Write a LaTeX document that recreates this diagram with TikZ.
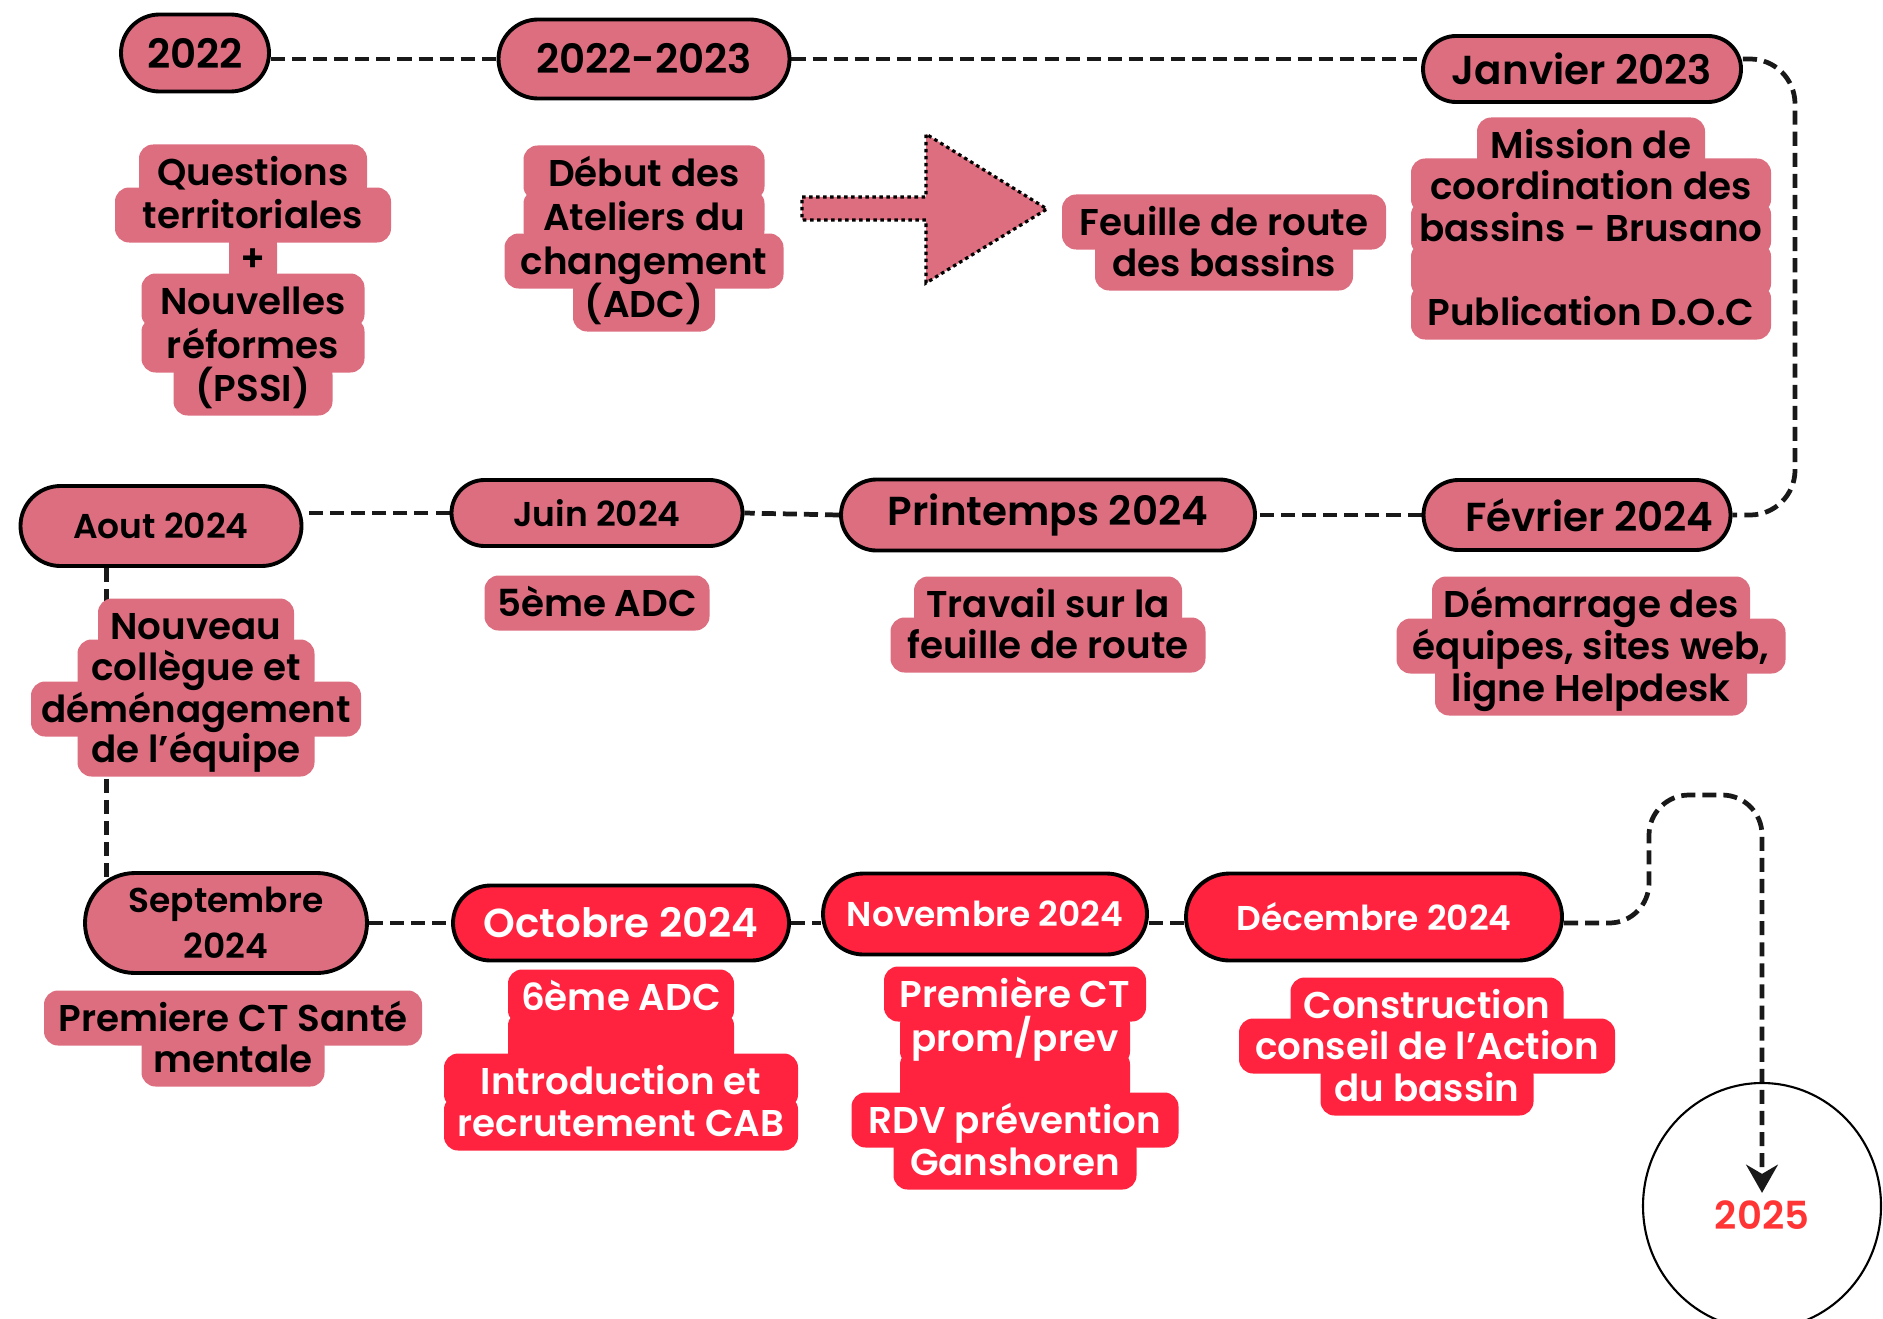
\documentclass[tikz,border=0pt]{standalone}
\usepackage{fontspec}
\setmainfont{Poppins}[BoldFont={Poppins SemiBold}]
\usetikzlibrary{shapes.misc, arrows.meta}

\definecolor{rosebox}{HTML}{DC6E7F}
\definecolor{redbox}{HTML}{FF2340}
\definecolor{redtext}{HTML}{FF3535}

\pgfdeclarelayer{lines}
\pgfdeclarelayer{boxes}
\pgfsetlayers{lines,boxes,main}

\begin{document}
\begin{tikzpicture}[
				pill/.style={rounded rectangle, draw=black, line width=1.1pt, fill=rosebox, text=black, inner sep=0pt, font=\bfseries\fontsize{11.5}{14}\selectfont},
				smallpill/.style={pill, font=\bfseries\fontsize{9.8}{13}\selectfont},
				redpill/.style={pill, fill=redbox, text=white},
				tag/.style={rounded corners=4pt, inner sep=0pt, minimum height=0.55cm},
				pinktag/.style={tag, fill=rosebox},
				redtag/.style={tag, fill=redbox},
				tagtext/.style={inner sep=0pt, text height=9.4pt, text depth=1.6pt, font=\bfseries\fontsize{10.6}{13}\selectfont},
				timeline/.style={draw=black!90, line width=1.35pt, dash pattern=on 4pt off 2pt}
			]

			\useasboundingbox (0,0) rectangle (18.83,13.18);

			% first row
			\node[pill, minimum width=1.48cm, minimum height=0.77cm] (p2022) at (1.95,12.65) {2022};
			\node[pill, minimum width=2.91cm, minimum height=0.79cm] (p2223) at (6.44,12.59) {2022-2023};
			\node[pill, minimum width=3.18cm, minimum height=0.66cm] (pjan23) at (15.82,12.49) {Janvier 2023};

			% second row
			\node[smallpill, minimum width=2.81cm, minimum height=0.80cm] (paout) at (1.61,7.92) {Aout 2024};
			\node[smallpill, minimum width=2.91cm, minimum height=0.66cm] (pjuin) at (5.97,8.05) {Juin 2024};
			\node[pill, minimum width=4.14cm, minimum height=0.71cm] (pprint) at (10.48,8.03) {Printemps 2024};
			\node[pill, minimum width=3.07cm, minimum height=0.70cm] (pfev) at (15.77,8.03) {\hspace{0.25cm}Février 2024};

			% third row
			\node[smallpill, align=center, minimum width=2.82cm, minimum height=1.00cm] (psept) at (2.26,3.95) {Septembre\\2024};
			\node[redpill, minimum width=3.36cm, minimum height=0.75cm] (poct) at (6.21,3.95) {Octobre 2024};
			\node[redpill, smallpill, fill=redbox, text=white, minimum width=3.24cm, minimum height=0.81cm] (pnov) at (9.85,4.04) {Novembre 2024};
			\node[redpill, smallpill, fill=redbox, text=white, minimum width=3.76cm, minimum height=0.87cm] (pdec) at (13.74,4.01) {Décembre 2024};

			\node[text=redtext, inner sep=2pt, font=\bfseries\fontsize{11}{13}\selectfont] (t2025) at (17.62,1.03) {2025};
			\draw[line width=0.6pt] (17.62,1.12) ellipse [x radius=1.19cm, y radius=1.23cm];

			\begin{pgfonlayer}{lines}
				\draw[timeline] (p2223.west -| p2022.east) -- (p2223.west);
				\draw[timeline] (p2223.east) -- (p2223.east -| pjan23.west);
				\draw[timeline, rounded corners=0.45cm] (pjan23.east |- p2223.east) -| (17.95,10) |- (pfev.east);
				\draw[timeline] (pfev.west) -- (pprint.east);
				\draw[timeline] (pprint.west) -- (pjuin.east);
				\draw[timeline] (pjuin.west) -- (pjuin.west -| paout.east);
				\draw[timeline] (paout.south -| psept.160) -- (psept.160);
				\draw[timeline] (psept.east) -- (poct.west);
				\draw[timeline] (poct.east) -- (poct.east -| pnov.west);
				\draw[timeline] (pnov.east |- poct.east) -- (poct.east -| pdec.west);
				\draw[timeline, rounded corners=0.4cm, -{Stealth[length=8pt, width=9pt]}] (pdec.east |- poct.east) -| (16.49,5.23) -| (t2025.north);
			\end{pgfonlayer}

			\filldraw[fill=rosebox, draw=black, line width=0.9pt, dash pattern=on 1pt off 1pt] (8.02,11.21) -- (9.26,11.21) -- (9.26,11.84) -- (10.47,11.09) -- (9.26,10.35) -- (9.26,10.98) -- (8.02,10.98) -- cycle;

			\foreach \txt/\ty/\tw [count=\i] in {Questions/11.46/2.28, territoriales/11.03/2.76, +/10.60/0.48, Nouvelles/10.17/2.23, réformes/9.73/2.23, (PSSI)/9.30/1.59} {
					\begin{pgfonlayer}{boxes}
						\node[pinktag, minimum width=\tw cm] (quest-\i) at (2.53,\ty) {};
					\end{pgfonlayer}
					\node[tagtext] at (quest-\i) {\txt};
				}

			\foreach \txt/\ty/\tw [count=\i] in {Début des/11.45/2.41, Ateliers du/11.01/2.41, changement/10.57/2.79, (ADC)/10.14/1.42} {
					\begin{pgfonlayer}{boxes}
						\node[pinktag, minimum width=\tw cm] (debut-\i) at (6.44,\ty) {};
					\end{pgfonlayer}
					\node[tagtext] at (debut-\i) {\txt};
				}

			\foreach \txt/\ty/\tw [count=\i] in {Feuille de route/10.96/3.24, des bassins/10.55/2.58} {
					\begin{pgfonlayer}{boxes}
						\node[pinktag, minimum width=\tw cm] (feuille-\i) at (12.24,\ty) {};
					\end{pgfonlayer}
					\node[tagtext] at (feuille-\i) {\txt};
				}

			\foreach \txt/\ty/\tw [count=\i] in {Mission de/11.73/2.28, coordination des/11.32/3.60, bassins - Brusano/10.90/3.60, /10.48/3.60, Publication D.O.C/10.06/3.60} {
					\begin{pgfonlayer}{boxes}
						\node[pinktag, minimum width=\tw cm] (mission-\i) at (15.91,\ty) {};
					\end{pgfonlayer}
					\node[tagtext] at (mission-\i) {\txt};
				}

			\foreach \txt/\ty/\tw [count=\i] in {Nouveau/6.92/1.96, collègue et/6.51/2.37, déménagement/6.09/3.30, de l’équipe/5.69/2.37} {
					\begin{pgfonlayer}{boxes}
						\node[pinktag, minimum width=\tw cm] (nouveau-\i) at (1.96,\ty) {};
					\end{pgfonlayer}
					\node[tagtext] at (nouveau-\i) {\txt};
				}

			\begin{pgfonlayer}{boxes}
				\node[pinktag, minimum width=2.25cm] (adc5) at (5.97,7.15) {};
			\end{pgfonlayer}
			\node[tagtext] at (adc5) {5ème ADC};

			\foreach \txt/\ty/\tw [count=\i] in {Travail sur la/7.14/2.68, feuille de route/6.73/3.15} {
					\begin{pgfonlayer}{boxes}
						\node[pinktag, minimum width=\tw cm] (travail-\i) at (10.48,\ty) {};
					\end{pgfonlayer}
					\node[tagtext] at (travail-\i) {\txt};
				}

			\foreach \txt/\ty/\tw [count=\i] in {Démarrage des/7.14/3.18, {équipes, sites web,}/6.72/3.89, ligne Helpdesk/6.30/3.12} {
					\begin{pgfonlayer}{boxes}
						\node[pinktag, minimum width=\tw cm] (demarrage-\i) at (15.91,\ty) {};
					\end{pgfonlayer}
					\node[tagtext] at (demarrage-\i) {\txt};
				}

			\foreach \txt/\ty/\tw [count=\i] in {Premiere CT Santé/3.00/3.78, mentale/2.59/1.83} {
					\begin{pgfonlayer}{boxes}
						\node[pinktag, minimum width=\tw cm] (sante-\i) at (2.33,\ty) {};
					\end{pgfonlayer}
					\node[tagtext] at (sante-\i) {\txt};
				}

			\foreach \txt/\ty/\tw [count=\i] in {6ème ADC/3.21/2.26, /2.79/2.26, Introduction et/2.37/3.54, recrutement CAB/1.95/3.54} {
					\begin{pgfonlayer}{boxes}
						\node[redtag, minimum width=\tw cm] (adc6-\i) at (6.21,\ty) {};
					\end{pgfonlayer}
					\node[tagtext, text=white] at (adc6-\i) {\txt};
				}

			\foreach \txt/\ty/\tw [count=\i] in {Première CT/3.24/2.62, {prom/prev}/2.80/2.30, /2.40/2.30, RDV prévention/1.98/3.27, Ganshoren/1.56/2.43} {
					\begin{pgfonlayer}{boxes}
						\node[redtag, minimum width=\tw cm] (premiere-\i) at (10.15,\ty) {};
					\end{pgfonlayer}
					\node[tagtext, text=white] at (premiere-\i) {\txt};
				}

			\foreach \txt/\ty/\tw [count=\i] in {Construction/3.13/2.73, conseil de l’Action/2.72/3.76, du bassin/2.30/2.13} {
					\begin{pgfonlayer}{boxes}
						\node[redtag, minimum width=\tw cm] (conseil-\i) at (14.27,\ty) {};
					\end{pgfonlayer}
					\node[tagtext, text=white] at (conseil-\i) {\txt};
				}

		\end{tikzpicture}
\end{document}
